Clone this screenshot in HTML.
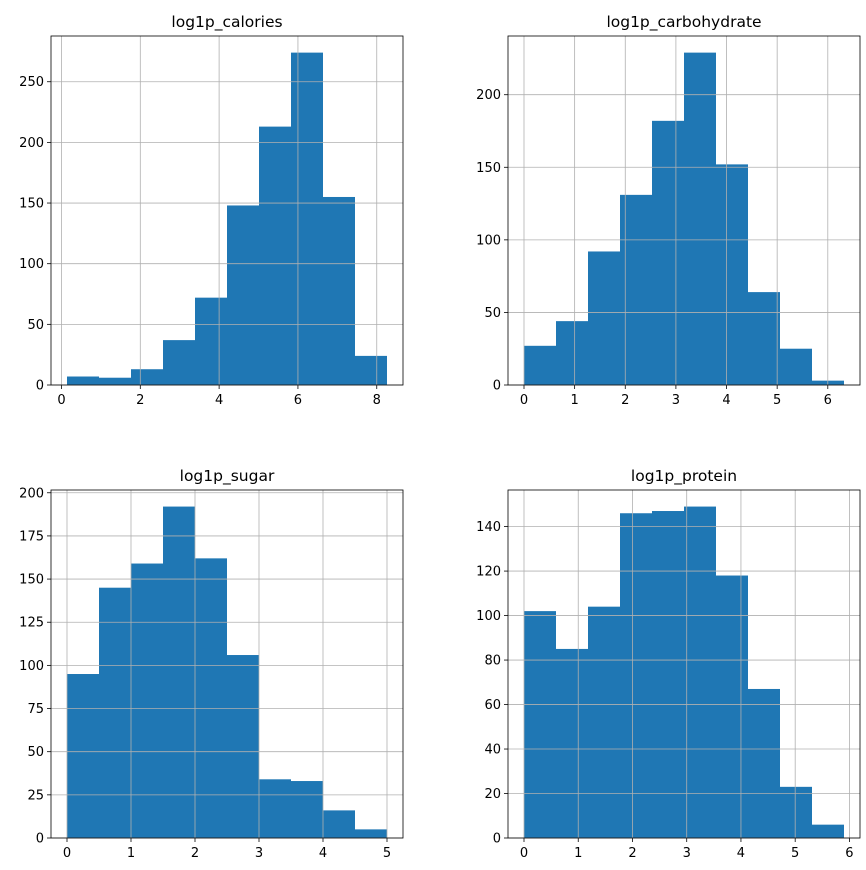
<!DOCTYPE html>
<html><head><meta charset="utf-8"><style>
body{margin:0;background:#fff;}
svg{display:block;font-family:"DejaVu Sans","Liberation Sans",sans-serif;}
</style></head><body>
<svg id="chart" width="866" height="870"></svg>
<script>
const titles = ["log1p_calories","log1p_carbohydrate","log1p_sugar","log1p_protein"];
const binLo = [0.14, 0, 0, 0];
const binHi = [8.26, 6.32, 5.0, 5.9];
const counts1 = [7, 6, 13, 37, 72, 148, 213, 274, 155, 24];
const counts2 = [27, 44, 92, 131, 182, 229, 152, 64, 25, 3];
const counts3 = [95, 145, 159, 192, 162, 106, 34, 33, 16, 5];
const counts4 = [102, 85, 104, 146, 147, 149, 118, 67, 23, 6];
const xTicks1 = [0, 2, 4, 6, 8];
const xTicks2 = [0, 1, 2, 3, 4, 5, 6];
const xTicks3 = [0, 1, 2, 3, 4, 5];
const xTicks4 = [0, 1, 2, 3, 4, 5, 6];
const yTicks1 = [0, 50, 100, 150, 200, 250];
const yTicks2 = [0, 50, 100, 150, 200];
const yTicks3 = [0, 25, 50, 75, 100, 125, 150, 175, 200];
const yTicks4 = [0, 20, 40, 60, 80, 100, 120, 140];

const allCounts=[counts1,counts2,counts3,counts4];
const allX=[xTicks1,xTicks2,xTicks3,xTicks4];
const allY=[yTicks1,yTicks2,yTicks3,yTicks4];
const boxes=[[51,403,36,385],[508,860,36,385],[51,403,490,838],[508,860,490,838]];
const NS="http://www.w3.org/2000/svg";
const svg=document.getElementById('chart');
function mk(tag,attrs,parent){const e=document.createElementNS(NS,tag);for(const k in attrs)e.setAttribute(k,attrs[k]);parent.appendChild(e);return e;}
for(let p=0;p<4;p++){
  const [L,R,T,B]=boxes[p];
  const lo=binLo[p],hi=binHi[p],c=allCounts[p];
  const pad=(hi-lo)*0.05, xmin=lo-pad, xmax=hi+pad;
  const ymax=Math.max(...c)*1.05;
  const sx=v=>L+(v-xmin)/(xmax-xmin)*(R-L);
  const sy=v=>B-v/ymax*(B-T);
  const g=mk('g',{},svg);
  
  
  const w=(hi-lo)/c.length;
  c.forEach((v,i)=>{
    const r=mk('rect',{x:sx(lo+i*w),y:sy(v),width:sx(lo+(i+1)*w)-sx(lo+i*w),height:B-sy(v),fill:'#1f77b4'},g);
    
    
  });
  allX[p].forEach(t=>{
    const x=sx(t);
    const gl=mk('line',{x1:x,x2:x,y1:T,y2:B,stroke:'#b0b0b0','stroke-width':0.8},g);
    
    
    mk('line',{x1:x,x2:x,y1:B,y2:B+4,stroke:'#000','stroke-width':0.8},g);
    const tx=mk('text',{x:x,y:B+19,'text-anchor':'middle','font-size':13,fill:'#000'},g);
    tx.textContent=t;
    
    
  });
  allY[p].forEach(t=>{
    const y=sy(t);
    const gl=mk('line',{x1:L,x2:R,y1:y,y2:y,stroke:'#b0b0b0','stroke-width':0.8},g);
    
    
    mk('line',{x1:L-4,x2:L,y1:y,y2:y,stroke:'#000','stroke-width':0.8},g);
    const tx=mk('text',{x:L-7,y:y+4.5,'text-anchor':'end','font-size':13,fill:'#000'},g);
    tx.textContent=t;
    
    
  });
  const fr=mk('rect',{x:L,y:T,width:R-L,height:B-T,fill:'none',stroke:'#000','stroke-width':0.8},g);
  
  
  const tt=mk('text',{x:(L+R)/2,y:T-9,'text-anchor':'middle','font-size':15.5,fill:'#000'},g);
  tt.textContent=titles[p];
  
  
}
</script>
</body></html>
